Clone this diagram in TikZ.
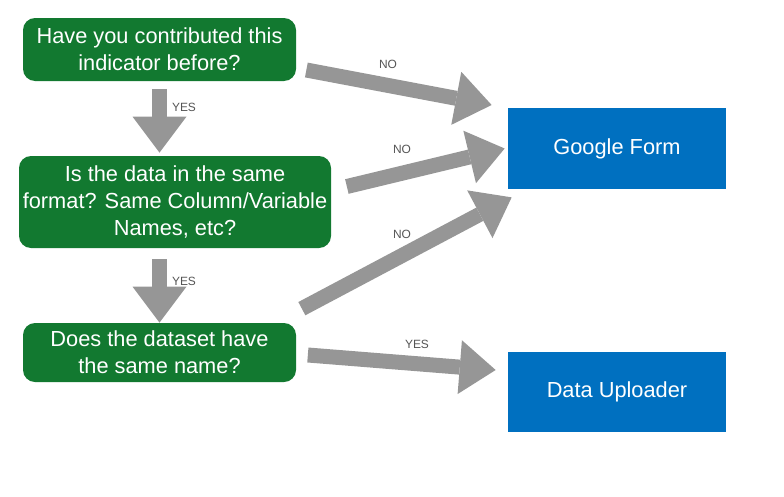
\documentclass[tikz,border=0pt]{standalone}
\usepackage{fontspec}
\setmainfont{Liberation Sans}
\usetikzlibrary{arrows.meta}
\definecolor{fc_green}{RGB}{18, 121, 48}
\definecolor{fc_blue}{RGB}{0, 112, 192}
\definecolor{fc_grey}{RGB}{150, 150, 150}
\definecolor{fc_text}{RGB}{85, 85, 85}
\tikzstyle{qn}=[rectangle,rounded corners=0.24cm,fill=fc_green,text=white,
  align=center,inner sep=1pt,font=\fontsize{12.4}{15.3}\selectfont]
\tikzstyle{dn}=[rectangle,fill=fc_blue,text=white,minimum width=4.36cm,
  minimum height=1.62cm,inner sep=1pt,font=\fontsize{12.4}{15.3}\selectfont]
\tikzstyle{fl}=[draw=fc_grey,line width=0.3cm,
  -{Triangle[length=0.72cm,width=1.08cm,line width=0pt]}]
\tikzstyle{lb}=[text=fc_text,inner sep=0pt,font=\fontsize{6.8}{8}\selectfont]

\begin{document}
\begin{tikzpicture}
    \useasboundingbox (0,0) rectangle (15.68,9.92);
    \node [style=qn,minimum width=5.46cm,minimum height=1.26cm] (q1) at (3.19,8.93) {Have you contributed this\\indicator before?};
    \node [style=qn,minimum width=6.24cm,minimum height=1.84cm] (q2) at (3.5,5.88) {Is the data in the same\\format? Same Column/Variable\\Names, etc?};
    \node [style=qn,minimum width=5.46cm,minimum height=1.18cm] (q3) at (3.19,2.87) {Does the dataset have\\the same name?};
    \node [style=dn] (gform) at (12.34,6.95) {Google Form};
    \node [style=dn,minimum height=1.6cm] (upload) at (12.34,2.08) {Data Uploader};
    \draw [style=fl,shorten <=0.16cm,shorten >=0.06cm] (q1.south) -- (q1.south |- q2.north);
    \draw [style=fl,shorten <=0.22cm] (q3.north |- q2.south) -- (q3.north);
    \draw [style=fl] ([shift={(0.2,-0.41)}]q1.east) -- ([shift={(-0.32,0.87)}]gform.west);
    \draw [style=fl] ([shift={(0.31,0.31)}]q2.east) -- ([xshift=-0.06cm]gform.west);
    \draw [style=fl] ([shift={(0.11,0.28)}]q3.north east) -- ([shift={(0.08,-0.16)}]gform.south west);
    \draw [style=fl] ([shift={(0.23,-0.05)}]q3.east) -- ([shift={(-0.24,0.44)}]upload.west);
    \node [style=lb] (no1) at (7.76,8.64) {NO};
    \node [style=lb] (yes1) at (3.68,7.78) {YES};
    \node [style=lb] (no2) at (8.04,6.94) {NO};
    \node [style=lb] (no3) at (8.04,5.24) {NO};
    \node [style=lb] (yes2) at (3.68,4.30) {YES};
    \node [style=lb] (yes3) at (8.34,3.04) {YES};
\end{tikzpicture}
\end{document}
